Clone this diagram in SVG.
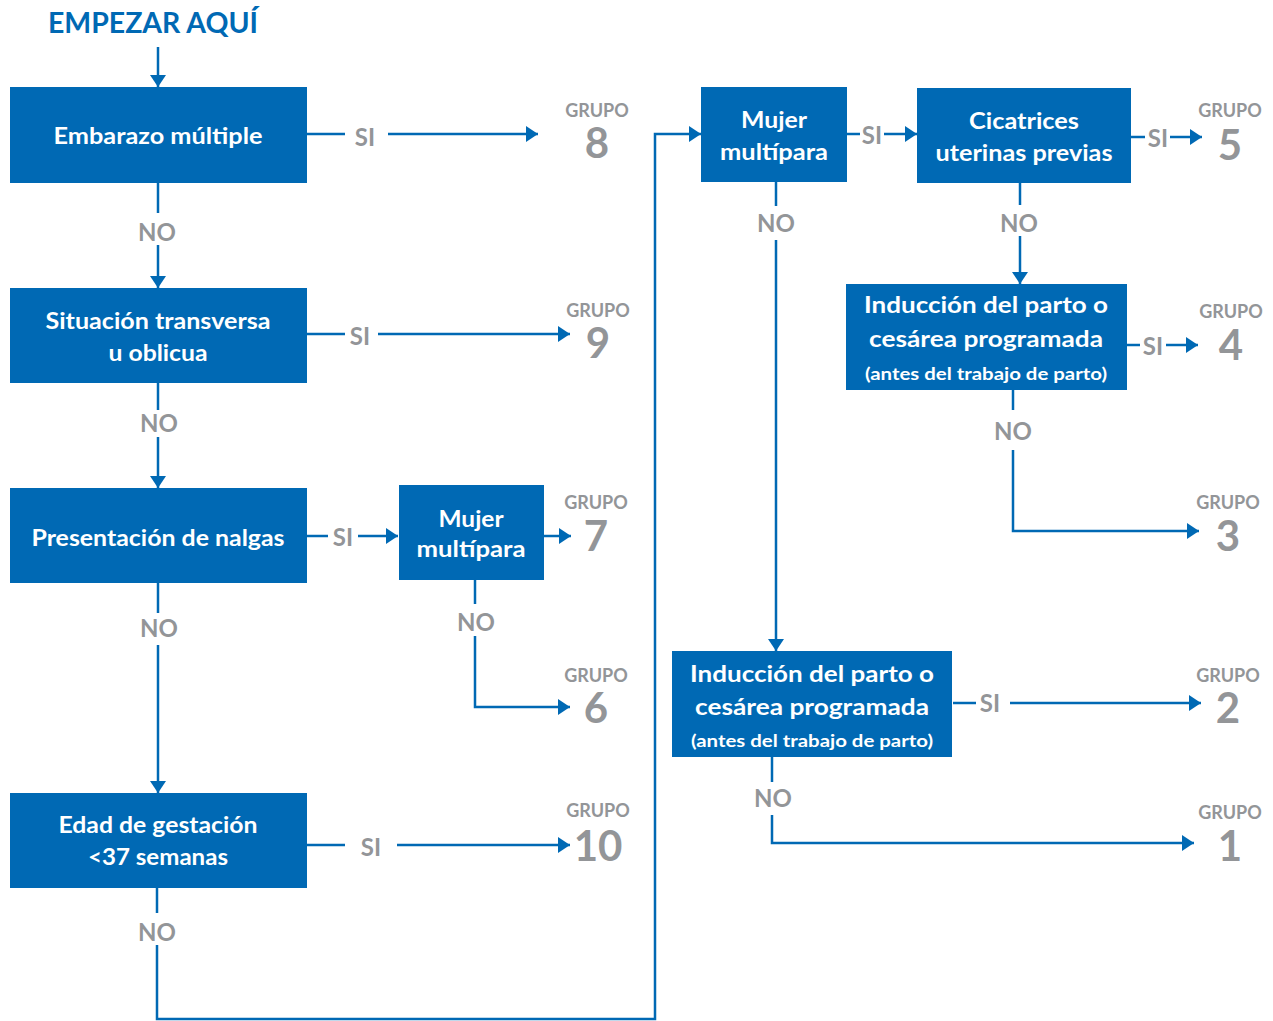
<svg xmlns="http://www.w3.org/2000/svg" width="1273" height="1021" viewBox="0 0 1273 1021">
<style>
.box{fill:#0069b4}
.bt{font-family:Lato,"Open Sans","Liberation Sans",sans-serif;font-weight:700;fill:#fff;font-size:22px;text-anchor:middle}
.sm{font-size:17px}
.lbl{font-family:Lato,"Open Sans","Liberation Sans",sans-serif;font-weight:700;fill:#939598;font-size:24px;text-anchor:middle}
.gr{font-family:Lato,"Open Sans","Liberation Sans",sans-serif;font-weight:700;fill:#939598;font-size:18px;text-anchor:middle}
.num{font-family:Lato,"Open Sans","Liberation Sans",sans-serif;font-weight:700;fill:#939598;font-size:42px;text-anchor:middle}
.title{font-family:Lato,"Open Sans","Liberation Sans",sans-serif;font-weight:700;fill:#0069b4;font-size:28px}
.c{fill:none;stroke:#0069b4;stroke-width:2.5}
.a{marker-end:url(#ah)}
</style>
<defs>
<marker id="ah" markerUnits="userSpaceOnUse" markerWidth="13" markerHeight="16" refX="12" refY="8" orient="auto">
<path d="M0,0 L12,8 L0,16 z" fill="#0069b4"/>
</marker>
</defs>
<rect width="1273" height="1021" fill="#fff"/>
<text class="title" x="48" y="33" textLength="210" lengthAdjust="spacingAndGlyphs">EMPEZAR AQUÍ</text>

<g id="connectors">
<path class="c a" d="M158,47 V87"/>
<path class="c" d="M307,134 H345"/><path class="c a" d="M388,134 H538"/>
<path class="c" d="M158,183 V213"/><path class="c a" d="M158,245 V288"/>
<path class="c" d="M307,334 H345"/><path class="c a" d="M378,334 H570"/>
<path class="c" d="M158,383 V410"/><path class="c a" d="M158,437 V488"/>
<path class="c" d="M307,536 H328"/><path class="c a" d="M358,536 H398"/>
<path class="c a" d="M544,536 H571"/>
<path class="c" d="M475,580 V604"/><path class="c a" d="M475,636 V707 H570"/>
<path class="c" d="M158,583 V613"/><path class="c a" d="M158,645 V793"/>
<path class="c" d="M307,845 H345"/><path class="c a" d="M397,845 H570"/>
<path class="c" d="M157,888 V913"/><path class="c a" d="M157,945 V1019 H655 V134 H701"/>
<path class="c" d="M847,134 H860"/><path class="c a" d="M884,134 H917"/>
<path class="c" d="M1131,137 H1145"/><path class="c a" d="M1170,137 H1202"/>
<path class="c" d="M1020,183 V205"/><path class="c a" d="M1020,236 V284"/>
<path class="c" d="M1126,345 H1140"/><path class="c a" d="M1166,345 H1198"/>
<path class="c" d="M1013,390 V410"/><path class="c a" d="M1013,450 V531 H1199"/>
<path class="c" d="M776,182 V206"/><path class="c a" d="M776,240 V651"/>
<path class="c" d="M953,703 H976"/><path class="c a" d="M1010,703 H1201"/>
<path class="c" d="M772,757 V782"/><path class="c a" d="M772,815 V843 H1194"/>
<text class="lbl" x="365" y="146">SI</text>
<text class="lbl" x="360" y="345">SI</text>
<text class="lbl" x="343" y="546">SI</text>
<text class="lbl" x="371" y="856">SI</text>
<text class="lbl" x="872" y="144">SI</text>
<text class="lbl" x="1158" y="147">SI</text>
<text class="lbl" x="1153" y="355">SI</text>
<text class="lbl" x="990" y="712">SI</text>
<text class="lbl" x="157" y="241">NO</text>
<text class="lbl" x="159" y="432">NO</text>
<text class="lbl" x="159" y="637">NO</text>
<text class="lbl" x="476" y="631">NO</text>
<text class="lbl" x="157" y="941">NO</text>
<text class="lbl" x="776" y="232">NO</text>
<text class="lbl" x="1019" y="232">NO</text>
<text class="lbl" x="1013" y="440">NO</text>
<text class="lbl" x="773" y="807">NO</text>
</g>

<g id="n-embarazo"><rect class="box" x="10" y="87" width="297" height="96"/>
<text class="bt" x="158" y="144" textLength="209" lengthAdjust="spacingAndGlyphs">Embarazo múltiple</text></g>
<g id="n-situacion"><rect class="box" x="10" y="288" width="297" height="95"/>
<text class="bt" x="158" y="329" textLength="225" lengthAdjust="spacingAndGlyphs">Situación transversa</text>
<text class="bt" x="158" y="361" textLength="99" lengthAdjust="spacingAndGlyphs">u oblicua</text></g>
<g id="n-nalgas"><rect class="box" x="10" y="488" width="297" height="95"/>
<text class="bt" x="158" y="546" textLength="253" lengthAdjust="spacingAndGlyphs">Presentación de nalgas</text></g>
<g id="n-multipara1"><rect class="box" x="399" y="485" width="145" height="95"/>
<text class="bt" x="471" y="527" textLength="65" lengthAdjust="spacingAndGlyphs">Mujer</text>
<text class="bt" x="471" y="557" textLength="109" lengthAdjust="spacingAndGlyphs">multípara</text></g>
<g id="n-edad"><rect class="box" x="10" y="793" width="297" height="95"/>
<text class="bt" x="158" y="833" textLength="199" lengthAdjust="spacingAndGlyphs">Edad de gestación</text>
<text class="bt" x="158" y="865" textLength="140" lengthAdjust="spacingAndGlyphs">&lt;37 semanas</text></g>
<g id="n-multipara2"><rect class="box" x="701" y="87" width="146" height="95"/>
<text class="bt" x="774" y="128" textLength="66" lengthAdjust="spacingAndGlyphs">Mujer</text>
<text class="bt" x="774" y="160" textLength="108" lengthAdjust="spacingAndGlyphs">multípara</text></g>
<g id="n-cicatrices"><rect class="box" x="917" y="88" width="214" height="95"/>
<text class="bt" x="1024" y="129" textLength="110" lengthAdjust="spacingAndGlyphs">Cicatrices</text>
<text class="bt" x="1024" y="161" textLength="177" lengthAdjust="spacingAndGlyphs">uterinas previas</text></g>
<g id="n-induccion1"><rect class="box" x="846" y="284" width="281" height="106"/>
<text class="bt" x="986" y="313" textLength="244" lengthAdjust="spacingAndGlyphs">Inducción del parto o</text>
<text class="bt" x="986" y="347" textLength="234" lengthAdjust="spacingAndGlyphs">cesárea programada</text>
<text class="bt sm" x="986" y="380" textLength="242" lengthAdjust="spacingAndGlyphs">(antes del trabajo de parto)</text></g>
<g id="n-induccion2"><rect class="box" x="672" y="651" width="280" height="106"/>
<text class="bt" x="812" y="682" textLength="244" lengthAdjust="spacingAndGlyphs">Inducción del parto o</text>
<text class="bt" x="812" y="715" textLength="234" lengthAdjust="spacingAndGlyphs">cesárea programada</text>
<text class="bt sm" x="812" y="747" textLength="242" lengthAdjust="spacingAndGlyphs">(antes del trabajo de parto)</text></g>

<g id="g8"><text class="gr" x="597" y="117">GRUPO</text><text class="num" x="597" y="158">8</text></g>
<g id="g9"><text class="gr" x="598" y="317">GRUPO</text><text class="num" x="598" y="358">9</text></g>
<g id="g7"><text class="gr" x="596" y="509">GRUPO</text><text class="num" x="596" y="551">7</text></g>
<g id="g6"><text class="gr" x="596" y="682">GRUPO</text><text class="num" x="596" y="723">6</text></g>
<g id="g10"><text class="gr" x="598" y="817">GRUPO</text><text class="num" x="598" y="861" font-size="40">10</text></g>
<g id="g5"><text class="gr" x="1230" y="117">GRUPO</text><text class="num" x="1230" y="160">5</text></g>
<g id="g4"><text class="gr" x="1231" y="318">GRUPO</text><text class="num" x="1231" y="360">4</text></g>
<g id="g3"><text class="gr" x="1228" y="509">GRUPO</text><text class="num" x="1228" y="551">3</text></g>
<g id="g2"><text class="gr" x="1228" y="682">GRUPO</text><text class="num" x="1228" y="723">2</text></g>
<g id="g1"><text class="gr" x="1230" y="819">GRUPO</text><text class="num" x="1230" y="861">1</text></g>
</svg>
